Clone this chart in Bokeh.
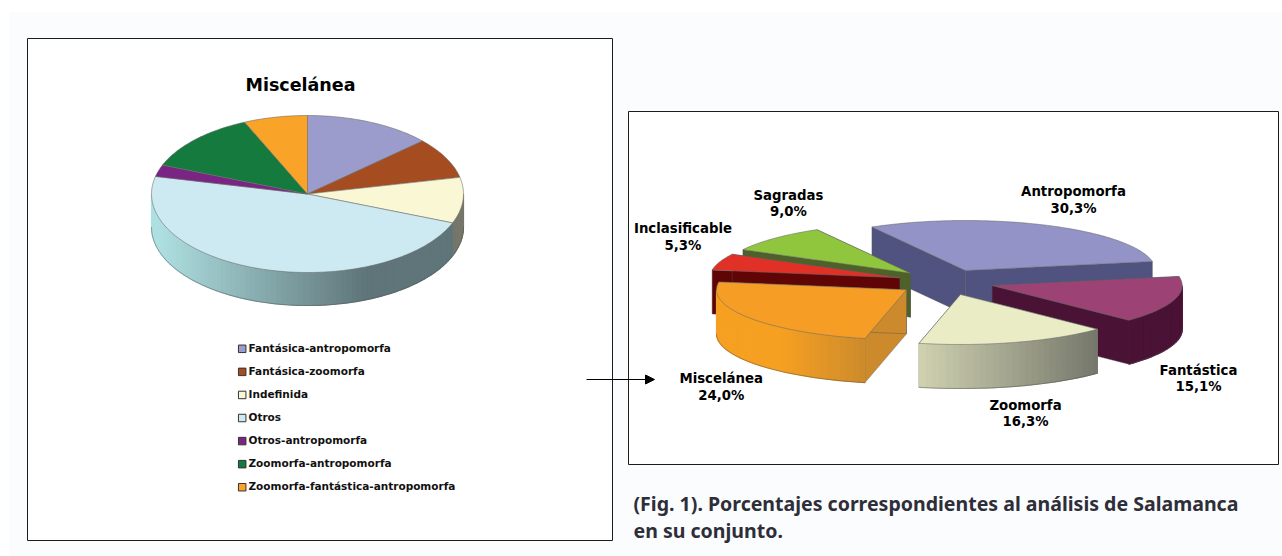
import math
from bokeh.core.properties import value
from bokeh.embed import file_html
from bokeh.models import Arrow, NormalHead, Range1d
from bokeh.plotting import figure
from bokeh.resources import INLINE

# ---------- data ----------
misc_title = "Miscelánea"
misc_labels = ["Fantásica-antropomorfa", "Fantásica-zoomorfa", "Indefinida", "Otros",
               "Otros-antropomorfa", "Zoomorfa-antropomorfa", "Zoomorfa-fantástica-antropomorfa"]
misc_values = [13.2, 8.4, 9.4, 47.6, 2.4, 12.4, 6.6]
misc_colors = ["#9c9ccc", "#a54c20", "#f9f7d4", "#cdeaf2", "#7a2483", "#157a3e", "#f9a429"]

main_labels = ["Antropomorfa", "Fantástica", "Zoomorfa", "Miscelánea", "Inclasificable", "Sagradas"]
main_values = [30.3, 15.1, 16.3, 24.0, 5.3, 9.0]

caption_lines = ["(Fig. 1). Porcentajes correspondientes al análisis de Salamanca",
                 "en su conjunto."]

# ---------- layout and style ----------
BG = "#fbfcfe"
W, H = 1282, 556
PAGE_LEFT, PAGE_TOP = 9, 12
LEFT_BOX = (27, 612, 38, 540)
RIGHT_BOX = (628, 1278, 111, 464)

L_CX, L_CY, L_RX, L_RY, L_DEPTH = 307, 193.5, 156, 78.5, 33

M_CX, M_CY, M_RY, M_DEPTH, M_START = 930, 278, 50, 44, -29.5
main_dx = [35, 61.7, 30, -24, -30.7, -20]
main_dy = [-8, 7, 16, 11.3, -0.7, -5.3]
main_rx = [190, 190, 190, 190, 190, 190]
main_top = ["#9393c8", "#9c4274", "#e9ecc5", "#f69d25", "#e13026", "#90c63e"]
main_side = ["#50527f", "#4a1235", "#74766a", "#cc8a2c", "#5f0505", "#4d6128"]
main_wall = [None, ("#4a1235", 0, 1, "#4a1235"), ("#cfd1b0", 919, 1099, "#74766a"),
             ("#f6a022", 780, 866, "#cc8a2c"), None, None]
main_draw_order = [0, 1, 2, 5, 4, 3]
label_pos = [(1073, 191.5), (1198, 370), (1025, 405), (720.7, 378.3), (682.5, 228.5), (788, 195)]
LABEL_GAP = 16.7

LEG_X, LEG_Y, LEG_STEP = 241.7, 348.3, 23.07


def pt(cx, cy, rx, ry, deg):
    a = math.radians(deg)
    return cx + rx * math.sin(a), cy - ry * math.cos(a)


def hex_mix(c0, c1, t):
    t = max(0.0, min(1.0, t))
    a = [int(c0[i:i + 2], 16) for i in (1, 3, 5)]
    b = [int(c1[i:i + 2], 16) for i in (1, 3, 5)]
    return "#%02x%02x%02x" % tuple(round(u + (v - u) * t) for u, v in zip(a, b))


def arc(cx, cy, rx, ry, a0, a1, step=1.0):
    n = max(2, int(abs(a1 - a0) / step) + 1)
    return [pt(cx, cy, rx, ry, a0 + (a1 - a0) * i / (n - 1)) for i in range(n)]


p = figure(width=W, height=H, output_backend="svg", toolbar_location=None,
           x_range=Range1d(0, W), y_range=Range1d(H, 0), min_border=0)
p.axis.visible = False
p.grid.visible = False
p.outline_line_color = None
p.background_fill_color = "white"
p.border_fill_color = "white"

p.quad(left=PAGE_LEFT, right=W, top=PAGE_TOP, bottom=H, fill_color=BG, line_color=None)
for x0, x1, y0, y1 in (LEFT_BOX, RIGHT_BOX):
    p.quad(left=x0, right=x1, top=y0, bottom=y1, fill_color="white",
           line_color="#1c1c1c", line_width=1)


def draw_wall(cx, cy, rx, ry, depth, a0, a1, grad):
    lo, hi = max(a0, 90), min(a1, 270)
    if hi <= lo:
        return
    c0, x0, x1, c1 = grad
    xs, ys, cols = [], [], []
    pts = arc(cx, cy, rx, ry, lo, hi, 2.0)
    for (xa, ya), (xb, yb) in zip(pts, pts[1:]):
        xs.append([xa, xb, xb, xa])
        ys.append([ya, yb, yb + depth, ya + depth])
        cols.append(hex_mix(c0, c1, ((xa + xb) / 2 - x0) / (x1 - x0)))
    p.patches(xs, ys, fill_color=cols, line_color=cols, line_width=1.2)
    bottom = [(x, y + depth) for x, y in pts]
    p.line([q[0] for q in bottom], [q[1] for q in bottom], line_color="#555555",
           line_width=0.7, line_alpha=0.7)


def draw_top(cx, cy, rx, ry, a0, a1, color, edge="#6a6a6a"):
    pts = [(cx, cy)] + arc(cx, cy, rx, ry, a0, a1)
    p.patch([q[0] for q in pts], [q[1] for q in pts], fill_color=color,
            line_color=edge, line_width=0.7, line_alpha=0.8)


# ---------- left pie ----------
LEFT_GRAD = ("#aee0e2", L_CX - 150, L_CX + 58, "#5f7579")
total = sum(misc_values)
ang = 0.0
l_spans = []
for v in misc_values:
    l_spans.append((ang, ang + 360 * v / total))
    ang = l_spans[-1][1]
for i, (a0, a1) in enumerate(l_spans):
    if misc_labels[i] == "Indefinida":
        draw_wall(L_CX, L_CY, L_RX, L_RY, L_DEPTH, a0, a1, ("#76766a", 0, 1, "#76766a"))
    else:
        draw_wall(L_CX, L_CY, L_RX, L_RY, L_DEPTH, a0, a1, LEFT_GRAD)
for i, (a0, a1) in enumerate(l_spans):
    draw_top(L_CX, L_CY, L_RX, L_RY, a0, a1, misc_colors[i])

p.text([300], [84], text=[misc_title], text_font=value("DejaVu Sans"),
       text_font_style="bold", text_font_size="17.5px", text_align="center",
       text_baseline="middle", text_color="#000000")

# legend of the left pie
leg_y = [LEG_Y + i * LEG_STEP for i in range(len(misc_labels))]
p.rect([LEG_X] * len(leg_y), leg_y, width=7.5, height=7.5, fill_color=misc_colors,
       line_color="#333333", line_width=1)
p.text([LEG_X + 6.3] * len(leg_y), [y - 0.8 for y in leg_y], text=misc_labels,
       text_font=value("DejaVu Sans"), text_font_style="bold", text_font_size="10.5px",
       text_align="left", text_baseline="middle", text_color="#111111")

# ---------- right exploded pie ----------
m_total = sum(main_values)
ang = M_START
m_spans = []
for v in main_values:
    m_spans.append((ang, ang + 360 * v / m_total))
    ang = m_spans[-1][1]

for i in main_draw_order:
    a0, a1 = m_spans[i]
    cx, cy, rx = M_CX + main_dx[i], M_CY + main_dy[i], main_rx[i]
    for a in (a0, a1):
        ex, ey = pt(cx, cy, rx, M_RY, a)
        p.patch([cx, ex, ex, cx], [cy, ey, ey + M_DEPTH, cy + M_DEPTH],
                fill_color=main_side[i], line_color="#555555", line_width=0.6, line_alpha=0.7)
    if main_wall[i] is not None:
        draw_wall(cx, cy, rx, M_RY, M_DEPTH, a0, a1, main_wall[i])
    draw_top(cx, cy, rx, M_RY, a0, a1, main_top[i])

p.text([q[0] for q in label_pos], [q[1] - 0.5 for q in label_pos], text=main_labels,
       text_font=value("DejaVu Sans"), text_font_style="bold", text_font_size="13.3px",
       text_align="center", text_baseline="middle", text_color="#000000")
p.text([q[0] for q in label_pos], [q[1] + LABEL_GAP - 0.5 for q in label_pos],
       text=[f"{v:.1f}".replace(".", ",") + "%" for v in main_values],
       text_font=value("DejaVu Sans"), text_font_style="bold", text_font_size="13.3px",
       text_align="center", text_baseline="middle", text_color="#000000")

# arrow between the charts
p.add_layout(Arrow(end=NormalHead(size=9, fill_color="black", line_color="black"),
                   x_start=586, y_start=379, x_end=654, y_end=379,
                   line_color="black", line_width=1))

# caption
p.text([633, 633], [503, 530], text=caption_lines, text_font=value("Noto Sans"),
       text_font_style="bold", text_font_size="19.55px", text_align="left",
       text_baseline="middle", text_color="#2e2e38")

open("out.html", "w").write(file_html(p, INLINE))
